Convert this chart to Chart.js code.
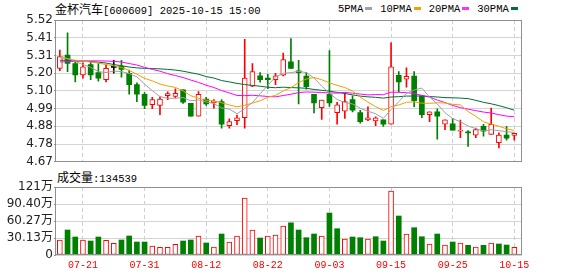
<!DOCTYPE html>
<html>
<head>
<meta charset="utf-8">
<script src="https://cdn.jsdelivr.net/npm/chart.js@4/dist/chart.umd.min.js"></script>
<style>
body { margin: 0; background: #fff; width: 578px; height: 276px; position: relative; overflow: hidden; }
canvas { position: absolute; left: 0; }
#c1 { top: 0; }
#c2 { top: 166px; }
.txt { position: absolute; font-family: "Liberation Mono", monospace; font-size: 10.5px; color: #000; white-space: nowrap; line-height: 14px; }
.cjk { font-family: "Noto Sans CJK SC"; font-size: 12px; }
.sq { display: inline-block; width: 7px; height: 3px; margin: 0 8px 1px 2px; vertical-align: middle; }
</style>
</head>
<body>
<div class="txt" style="left:55px;top:2px"><span class="cjk">金杯汽车</span>[600609] 2025-10-15 15:00</div>
<div class="txt" style="left:338px;top:2px">5PMA<span class="sq" style="background:#a0a0a0"></span>10PMA<span class="sq" style="background:#f0a000"></span>20PMA<span class="sq" style="background:#ff33ff"></span>30PMA<span class="sq" style="background:#007034"></span></div>
<div class="txt" style="left:57px;top:170px"><span class="cjk">成交量</span>:134539</div>
<canvas id="c1" width="578" height="170"></canvas>
<canvas id="c2" width="578" height="110"></canvas>
<script>
// trading days shown
const dates = ["07-16","07-17","07-18","07-21","07-22","07-23","07-24","07-25","07-28","07-29","07-30","07-31",
  "08-01","08-04","08-05","08-06","08-07","08-08","08-11","08-12","08-13","08-14","08-15","08-18","08-19","08-20","08-21","08-22","08-25","08-26","08-27","08-28","08-29",
  "09-01","09-02","09-03","09-04","09-05","09-08","09-09","09-10","09-11","09-12","09-15","09-16","09-17","09-18","09-19","09-22","09-23","09-24","09-25","09-26","09-29","09-30",
  "10-09","10-10","10-13","10-14","10-15"];

const open  = [5.230,5.309,5.259,5.191,5.253,5.205,5.162,5.236,5.243,5.201,5.133,5.075,5.012,5.008,5.066,5.062,5.101,5.021,4.944,5.046,
               5.025,5.031,4.886,4.917,4.934,5.124,5.185,5.172,5.162,5.189,5.269,5.215,5.184,5.075,4.994,5.075,4.965,4.973,5.043,4.965,
               4.921,4.915,4.921,4.896,5.188,5.166,5.184,5.065,4.952,4.969,4.895,4.898,4.853,4.847,4.830,4.882,4.834,4.785,4.830,4.828];
const high  = [5.340,5.443,5.278,5.263,5.269,5.259,5.255,5.278,5.278,5.220,5.143,5.085,5.056,5.060,5.089,5.108,5.102,5.021,5.091,5.056,
               5.043,5.043,4.927,4.950,5.404,5.259,5.205,5.195,5.201,5.321,5.408,5.278,5.207,5.075,5.040,5.336,5.027,5.082,5.066,4.979,
               5.000,4.940,4.921,5.383,5.211,5.234,5.211,5.065,4.969,4.988,4.921,4.930,4.920,4.857,4.872,4.895,4.992,4.843,4.882,4.840];
const low   = [5.217,5.211,5.149,5.172,5.162,5.153,5.149,5.201,5.178,5.075,5.031,4.988,4.988,4.953,5.043,5.053,5.020,4.944,4.944,5.008,
               4.992,4.872,4.872,4.892,4.872,5.120,5.147,5.108,5.133,5.185,5.230,5.017,5.105,4.963,4.924,5.002,4.895,4.930,4.969,4.901,
               4.917,4.886,4.882,4.896,5.089,5.118,5.000,4.934,4.911,4.805,4.863,4.859,4.814,4.762,4.814,4.824,4.834,4.753,4.799,4.800];
const close = [5.301,5.259,5.191,5.240,5.191,5.172,5.230,5.236,5.224,5.133,5.075,5.008,5.043,5.046,5.079,5.081,5.027,4.944,5.075,5.017,
               5.033,4.895,4.911,4.934,5.172,5.211,5.162,5.162,5.185,5.282,5.230,5.205,5.120,5.023,5.040,5.023,5.011,5.031,4.979,4.911,
               4.934,4.934,4.895,5.240,5.149,5.182,5.037,4.953,4.969,4.943,4.921,4.859,4.857,4.843,4.863,4.853,4.895,4.830,4.811,4.840];

const volume = [266000,443000,319000,266000,248000,319000,260000,207000,266000,337000,230000,230000,160000,136000,136000,190000,248000,266000,337000,213000,
                142000,372000,230000,337000,1010000,443000,301000,337000,354000,514000,570000,443000,307000,372000,337000,744000,466000,284000,319000,307000,
                284000,324000,248000,1134000,691000,372000,484000,324000,195000,372000,177000,230000,213000,171000,142000,171000,213000,195000,177000,134539];
const volUp = [1,0,0,1,0,0,1,1,0,0,0,0,1,1,1,1,0,0,1,0,1,0,1,1,1,1,0,1,1,1,0,0,0,0,1,0,0,1,0,0,1,0,0,1,0,1,0,0,1,0,1,0,1,0,1,0,1,0,0,1];

// MA values before enough closes are on screen
const ma5Lead  = [5.305,5.288,5.271,5.253];
const ma10Lead = [5.294,5.288,5.279,5.274,5.268,5.262,5.253,5.245,5.236];
const ma20Lead = [5.268,5.271,5.272,5.274,5.275,5.275,5.274,5.272,5.268,5.259,5.250,5.236,5.224,5.213,5.198,5.187,5.175,5.160,5.146];
const ma30Lead = [5.279,5.278,5.276,5.274,5.271,5.267,5.262,5.253,5.246,5.238,5.233,5.230,5.229,5.227,5.224,5.220,5.213,5.204,5.195,5.181,
                  5.172,5.157,5.149,5.140,5.133,5.128,5.123,5.117,5.114];

const priceTickVals = [4.67,4.77625,4.8825,4.98875,5.095,5.20125,5.3075,5.41375,5.52];
const priceTicks = ["4.67","4.78","4.88","4.99","5.10","5.20","5.31","5.41","5.52"];
const volTickVals = [0,301325,602650,903975,1205300];
const volTicks = ["0","30.13万","60.27万","90.40万","121万"];
const xTickIdx = [3,11,19,27,35,43,51,59];

const RED = "#ff0000", GREEN = "#008000";

function ma(n, lead) {
    return close.map(function (c, i) {
        if (i < n - 1) return lead[i];
        let s = 0;
        for (let k = i - n + 1; k <= i; k++) s += close[k];
        return s / n;
    });
}

function candleColor(i) {
    if (close[i] > open[i]) return RED;
    if (close[i] < open[i]) return GREEN;
    return "#000";
}

const frame = {
    id: "frame",
    afterDraw(chart) {
        const a = chart.chartArea, ctx = chart.ctx;
        ctx.save();
        ctx.strokeStyle = "#8f8f8f";
        ctx.lineWidth = 1;
        ctx.strokeRect(Math.round(a.left) - 0.5, Math.round(a.top) + 0.5, Math.round(a.right - a.left), Math.round(a.bottom - a.top) - 1);
        ctx.restore();
    }
};

function xScale(showLabels) {
    return {
        type: "linear", min: -0.5, max: 60, offset: false,
        afterBuildTicks: function (s) { s.ticks = xTickIdx.map(v => ({ value: v })); },
        ticks: { display: showLabels, autoSkip: false, maxRotation: 0, color: RED, padding: 4,
                 font: { family: "'Liberation Mono', monospace", size: 10 },
                 callback: v => dates[v] },
        grid: { color: "#d0d0d0", drawTicks: false, offset: false },
        border: { display: false, dash: [4, 3] },
        afterFit: function (s) { s.height = showLabels ? 21 : 0; }
    };
}

function yScale(min, max, vals, labels) {
    return {
        min: min, max: max,
        afterBuildTicks: function (s) { s.ticks = vals.map(v => ({ value: v })); },
        ticks: { color: "#222", padding: 1, autoSkip: false, font: { family: "'DejaVu Sans', 'Noto Sans CJK SC'", size: 12 },
                 callback: (v, i) => labels[i] },
        grid: { color: "#d4d4d4", tickColor: "#8f8f8f", tickLength: 2 },
        border: { display: false },
        afterFit: function (s) { s.width = 56; }
    };
}

const idx = close.map((c, i) => i);
const cols = idx.map(candleColor);

function maSet(data, color) {
    return { type: "line", data: data.map((v, i) => ({ x: i, y: v })), borderColor: color, borderWidth: 1,
             pointRadius: 0, tension: 0, order: 1 };
}

new Chart(document.getElementById("c1"), {
    type: "bar",
    data: {
        datasets: [
            maSet(ma(5, ma5Lead), "#a0a0a0"),
            maSet(ma(10, ma10Lead), "#f0a000"),
            maSet(ma(20, ma20Lead), "#ff00ff"),
            maSet(ma(30, ma30Lead), "#006e33"),
            {
                data: idx.map(i => ({ x: i, y: [open[i], close[i]] })),
                backgroundColor: idx.map(i => close[i] > open[i] ? "#fff" : cols[i]),
                borderColor: cols,
                borderWidth: idx.map(i => close[i] > open[i] ? 1 : 0),
                borderSkipped: false, barThickness: 5, minBarLength: 1, grouped: false, order: 2
            },
            {
                data: idx.map(i => ({ x: i, y: [low[i], high[i]] })),
                backgroundColor: cols,
                borderWidth: 0, barThickness: 1, grouped: false, order: 3
            }
        ]
    },
    options: {
        responsive: false, animation: false,
        layout: { padding: { left: 0, right: 56, top: 20, bottom: 4 } },
        plugins: { legend: { display: false }, tooltip: { enabled: false } },
        scales: { x: xScale(false), y: yScale(4.67, 5.52, priceTickVals, priceTicks) }
    },
    plugins: [frame]
});

new Chart(document.getElementById("c2"), {
    type: "bar",
    data: {
        datasets: [{
            data: idx.map(i => ({ x: i, y: volume[i] })),
            backgroundColor: idx.map(i => volUp[i] ? "#fff" : GREEN),
            borderColor: idx.map(i => volUp[i] ? RED : GREEN),
            borderWidth: idx.map(i => volUp[i] ? 1 : 0),
            borderSkipped: false, barThickness: 5, grouped: false
        }]
    },
    options: {
        responsive: false, animation: false,
        layout: { padding: { left: 0, right: 56, top: 21, bottom: 0 } },
        plugins: { legend: { display: false }, tooltip: { enabled: false } },
        scales: { x: xScale(true), y: yScale(0, 1205300, volTickVals, volTicks) }
    },
    plugins: [frame]
});
</script>
</body>
</html>
